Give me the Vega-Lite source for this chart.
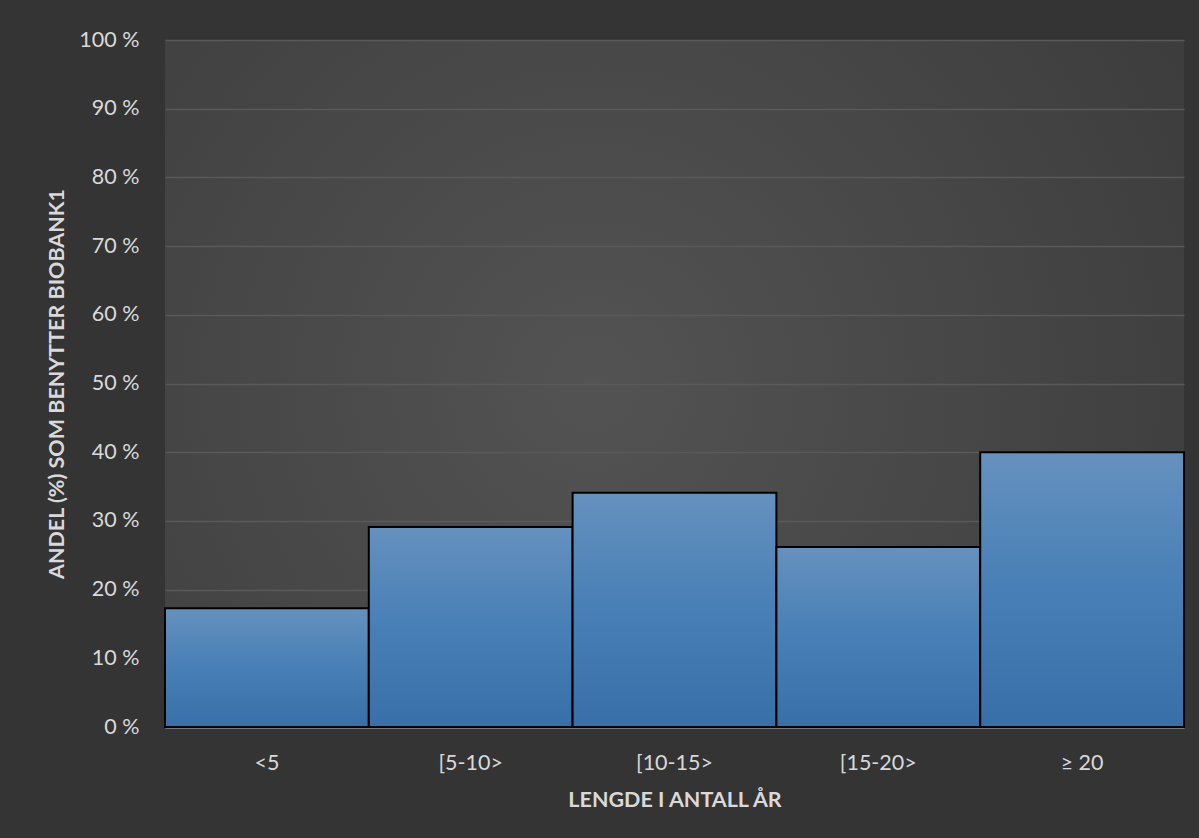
{
  "$schema": "https://vega.github.io/schema/vega-lite/v6.json",
  "width": 1019,
  "height": 687,
  "autosize": "none",
  "padding": {"left": 165, "top": 40, "right": 15, "bottom": 111},
  "background": "#343434",
  "config": {
    "view": {
      "stroke": null,
      "fill": {
        "gradient": "radial",
        "x1": 0.42, "y1": 0.5, "r1": 0,
        "x2": 0.42, "y2": 0.5, "r2": 0.9,
        "stops": [
          {"offset": 0, "color": "#535353"},
          {"offset": 1, "color": "#353535"}
        ]
      }
    },
    "font": "Lato"
  },
  "data": {
    "values": [
      {"periode": "<5", "andel": 17.3},
      {"periode": "[5-10>", "andel": 29.1},
      {"periode": "[10-15>", "andel": 34.1},
      {"periode": "[15-20>", "andel": 26.2},
      {"periode": "≥ 20", "andel": 40.0}
    ]
  },
  "mark": {
    "type": "bar",
    "stroke": "#000000",
    "strokeWidth": 2,
    "fill": {
      "gradient": "linear",
      "x1": 0, "y1": 0, "x2": 0, "y2": 1,
      "stops": [
        {"offset": 0, "color": "#6591be"},
        {"offset": 0.5, "color": "#477fb6"},
        {"offset": 1, "color": "#386fa8"}
      ]
    }
  },
  "encoding": {
    "x": {
      "field": "periode",
      "type": "nominal",
      "sort": null,
      "scale": {"paddingInner": 0, "paddingOuter": 0},
      "axis": {
        "title": "LENGDE I ANTALL ÅR",
        "titleColor": "#d9d9d9",
        "titleFontSize": 21.5,
        "titleFontWeight": "bold",
        "titlePadding": 16,
        "labelAngle": 0,
        "labelColor": "#d9d9d9",
        "labelFontSize": 21.5,
        "labelFontWeight": "normal",
        "labelPadding": 25,
        "ticks": false,
        "domainColor": "#8c8c8c",
        "domainWidth": 2.5,
        "grid": false
      }
    },
    "y": {
      "field": "andel",
      "type": "quantitative",
      "scale": {"domain": [0, 100], "nice": false},
      "axis": {
        "title": "ANDEL (%) SOM BENYTTER BIOBANK1",
        "titleColor": "#d9d9d9",
        "titleFontSize": 21.5,
        "titleFontWeight": "bold",
        "titlePadding": 10,
        "values": [0, 10, 20, 30, 40, 50, 60, 70, 80, 90, 100],
        "labelExpr": "datum.value + ' %'",
        "labelColor": "#d9d9d9",
        "labelFontSize": 21.5,
        "labelPadding": 26,
        "ticks": false,
        "domain": false,
        "grid": true,
        "gridColor": "#5a5a5a",
        "gridWidth": 1.5
      }
    }
  }
}
